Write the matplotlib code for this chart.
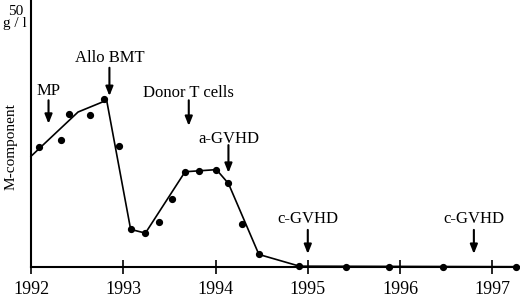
import matplotlib
matplotlib.use("Agg")
import matplotlib.pyplot as plt

plt.rcParams['font.family'] = ['Liberation Serif', 'DejaVu Serif']

# Measured dots (year, g/l)
dot_years = [1992.09, 1992.33, 1992.41, 1992.64, 1992.79, 1992.95, 1993.08, 1993.24,
             1993.39, 1993.53, 1993.67, 1993.82, 1994.01, 1994.14, 1994.29, 1994.47,
             1994.91, 1995.41, 1995.88, 1996.47, 1997.26]
dot_values = [22.5, 23.8, 28.7, 28.4, 31.4, 22.6, 7.0, 6.3,
              8.3, 12.7, 17.8, 17.9, 18.1, 15.6, 8.1, 2.3,
              0.1, 0.0, 0.0, 0.0, 0.0]

# Fitted trend line vertices
line_years = [1992.0, 1992.51, 1992.82, 1993.08, 1993.24, 1993.67, 1994.01, 1994.14,
              1994.47, 1994.91, 1997.26]
line_values = [20.7, 29.0, 31.2, 7.0, 6.3, 17.8, 18.2, 15.6, 2.3, 0.1, 0.0]

# Event annotations
event_labels = ["MP", "Allo BMT", "Donor T cells", "a-GVHD", "c-GVHD", "c-GVHD"]
event_years = [1992.19, 1992.85, 1993.71, 1994.14, 1995.0, 1996.80]
event_tips = [26.8, 32.0, 26.4, 17.6, 2.4, 2.4]
event_tails = [31.2, 37.3, 31.2, 22.8, 6.9, 6.9]
event_text_y = [32.2, 38.4, 31.8, 23.2, 8.2, 8.2]

year_ticks = [1992, 1993, 1994, 1995, 1996, 1997]

fig = plt.figure(figsize=(5.2, 2.98), dpi=100)
ax = fig.add_axes([0.0596, 0.105, 0.9404, 0.895])

ax.plot(line_years, line_values, color='black', lw=1.2, zorder=3, clip_on=False)
ax.plot(dot_years, dot_values, 'o', color='black', ms=4.2, zorder=4, clip_on=False)

for lab, yr, tip, tail, ty in zip(event_labels, event_years, event_tips, event_tails, event_text_y):
    ax.annotate('', xy=(yr, tip), xytext=(yr, tail),
                arrowprops=dict(arrowstyle='-|>,head_length=0.55,head_width=0.22',
                                color='black', lw=1.5, shrinkA=0, shrinkB=0))
    ax.text(yr, ty, lab, ha='center', va='baseline', fontsize=12)

ax.set_xlim(1992, 1997.3)
ax.set_ylim(0, 50)
ax.set_xticks(year_ticks)
ax.set_xticklabels([str(y) for y in year_ticks], fontsize=13)
ax.set_yticks([])
ax.tick_params(axis='x', direction='inout', length=10, width=1.2, pad=5)
for s in ['top', 'right']:
    ax.spines[s].set_visible(False)
for s in ['left', 'bottom']:
    ax.spines[s].set_linewidth(1.5)

fig.text(11/520, 1 - 147/298, 'M-component', rotation=90, ha='center', va='center', fontsize=11)
fig.text(23/520, 1 - 15/298, '50', ha='right', va='baseline', fontsize=11)
fig.text(27/520, 1 - 27/298, 'g / l', ha='right', va='baseline', fontsize=11)

fig.savefig('out.png', dpi=100)
